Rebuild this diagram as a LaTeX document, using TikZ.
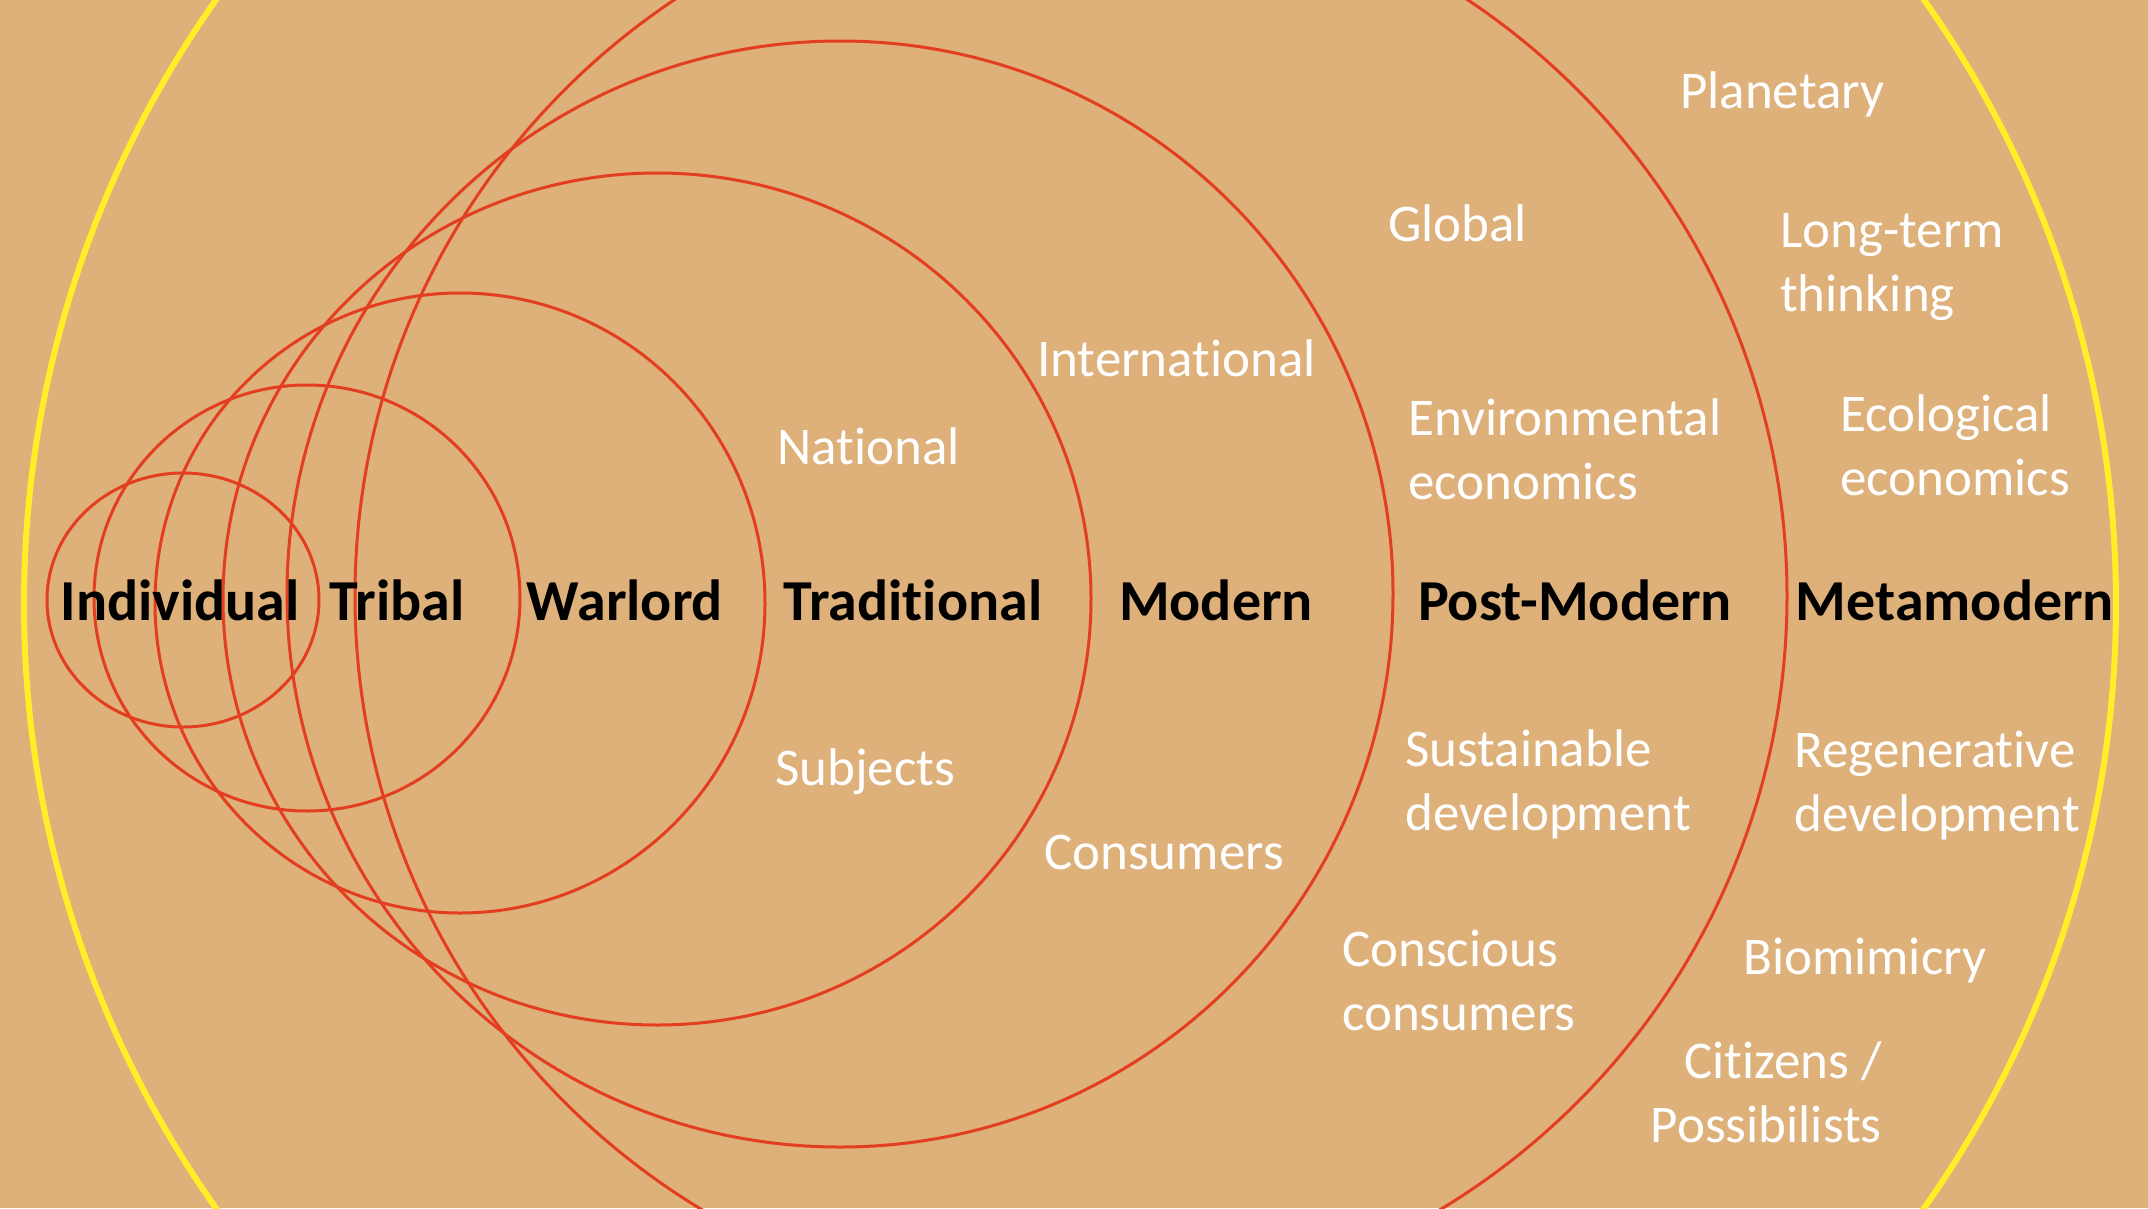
\documentclass[tikz,border=0pt]{standalone}
\usepackage{fontspec}
\setmainfont{Carlito}[Ligatures={NoCommon}]
\definecolor{paper}{RGB}{222,176,122}
\definecolor{ringred}{RGB}{228,62,32}
\definecolor{ringyellow}{RGB}{255,238,40}
\begin{document}
\begin{tikzpicture}[x=1pt,y=-1pt,
  redring/.style={draw=ringred,line width=3pt},
  yellowring/.style={draw=ringyellow,line width=6pt},
  stage/.style={inner sep=0pt,anchor=base,font=\fontsize{58}{64}\selectfont\bfseries,text=black},
  note/.style={inner sep=0pt,anchor=base west,font=\fontsize{53}{64}\selectfont,text=white,align=left}]
\fill[paper] (0,0) rectangle (2148,1208);
\useasboundingbox (0,0) rectangle (2148,1208);
\begin{scope}
\clip (0,0) rectangle (2148,1208);
\draw[yellowring] (1070,604) circle [radius=1046];
\draw[redring] (1071,596) circle [radius=716];
\draw[redring] (840,594) circle [radius=553];
\draw[redring] (657,599) ellipse [x radius=434, y radius=426];
\draw[redring] (460,603) ellipse [x radius=305, y radius=310];
\draw[redring] (307,598) circle [radius=213];
\draw[redring] (183,600) ellipse [x radius=136, y radius=127];
\end{scope}
% stage labels
\node[stage] (individual) at (180,620) {Individual};
\node[stage] (tribal) at (397,620) {Tribal};
\node[stage] (warlord) at (625,620) {Warlord};
\node[stage] (traditional) at (913,620) {Traditional};
\node[stage] (modern) at (1216,620) {Modern};
\node[stage] (postmodern) at (1575,620) {Post-Modern};
\node[stage] (metamodern) at (1955,620) {Metamodern};
% notes (multi-line nodes: anchor is the baseline of the last line)
\node[note] (planetary) at (1680,108) {Planetary};
\node[note] (global) at (1388,241) {Global};
\node[note] (longterm) at (1780,311) {Long-term\\thinking};
\node[note] (international) at (1037,376) {International};
\node[note] (environmental) at (1408,499) {Environmental\\economics};
\node[note] (ecological) at (1840,495) {Ecological\\economics};
\node[note] (national) at (777,464) {National};
\node[note] (subjects) at (775,785) {Subjects};
\node[note] (consumers) at (1044,869) {Consumers};
\node[note] (sustainable) at (1405,830) {Sustainable\\development};
\node[note] (regenerative) at (1794,831) {Regenerative\\development};
\node[note] (conscious) at (1342,1030) {Conscious\\consumers};
\node[note] (biomimicry) at (1743,974) {Biomimicry};
\node[note,align=right,anchor=base east] (citizens) at (1882,1142) {Citizens /\\Possibilists};
\end{tikzpicture}
\end{document}
